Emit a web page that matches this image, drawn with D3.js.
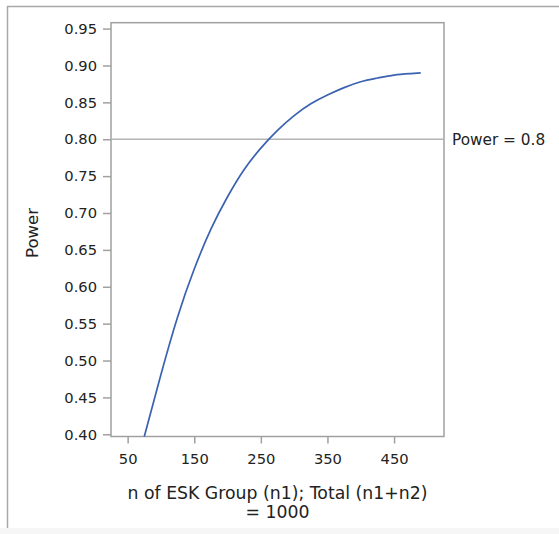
<!DOCTYPE html>
<html>
<head>
<meta charset="utf-8">
<script src="https://cdn.jsdelivr.net/npm/d3@7"></script>
<style>
  html, body { margin: 0; padding: 0; background: #fff; }
  svg { display: block; }
  text { font-family: "DejaVu Sans", Verdana, sans-serif; fill: #222; }
</style>
</head>
<body>
<svg id="chart" width="559" height="534"></svg>
<script>
// Sample size of ESK group (n1), total n1+n2 = 1000
const n1Values = [75, 100, 125, 150, 175, 200, 225, 250, 275, 300, 325, 350, 375, 400, 425, 450, 475, 490];
// Power
const powerValues = [0.397, 0.481, 0.559, 0.624, 0.678, 0.722, 0.759, 0.788, 0.812, 0.832, 0.848, 0.860, 0.870, 0.878, 0.883, 0.887, 0.889, 0.890];
const xTicks = [50, 150, 250, 350, 450];
const yTicks = [0.40, 0.45, 0.50, 0.55, 0.60, 0.65, 0.70, 0.75, 0.80, 0.85, 0.90, 0.95];
const refPower = 0.8;
const refLabel = "Power = 0.8";
const xLabelLines = ["n of ESK Group (n1); Total (n1+n2)", "= 1000"];
const yLabel = "Power";

const svg = d3.select("#chart");
const W = 559, H = 534;
const plot = { left: 111, right: 444, top: 22.7, bottom: 436.5 };

// outer frame
svg.append("rect").attr("x", 0).attr("y", 528).attr("width", W).attr("height", H - 528).attr("fill", "#f6f6f6");
svg.append("line").attr("x1", 7).attr("x2", W).attr("y1", 6.5).attr("y2", 6.5).attr("stroke", "#a8a8a8").attr("stroke-width", 1.5);
svg.append("line").attr("x1", 7.5).attr("x2", 7.5).attr("y1", 6).attr("y2", 528).attr("stroke", "#a8a8a8").attr("stroke-width", 1.5);

const x = d3.scaleLinear().domain([25, 525]).range([plot.left, plot.right]);
const y = d3.scaleLinear().domain([0.397, 0.958]).range([plot.bottom, plot.top]);

const axisColor = "#a0a0a0";

// plot box
svg.append("rect")
  .attr("x", plot.left).attr("y", plot.top)
  .attr("width", plot.right - plot.left).attr("height", plot.bottom - plot.top)
  .attr("fill", "none").attr("stroke", axisColor).attr("stroke-width", 1.5);

// reference line
svg.append("line")
  .attr("x1", plot.left).attr("x2", plot.right)
  .attr("y1", y(refPower)).attr("y2", y(refPower))
  .attr("stroke", "#b4b4b4").attr("stroke-width", 1.3);

svg.append("text")
  .attr("x", 452).attr("y", y(refPower))
  .attr("dy", "0.36em")
  .attr("font-size", "15.3px")
  .text(refLabel);

// y axis
const yAxis = d3.axisLeft(y).tickValues(yTicks).tickFormat(d3.format(".2f")).tickSize(8).tickPadding(6);
const gy = svg.append("g").attr("transform", `translate(${plot.left},0)`).call(yAxis);
gy.select(".domain").remove();
gy.selectAll(".tick line").attr("stroke", axisColor).attr("stroke-width", 1.5);
gy.selectAll(".tick text").attr("font-size", "14.7px").attr("font-family", "DejaVu Sans, sans-serif").attr("fill", "#222");

// x axis
const xAxis = d3.axisBottom(x).tickValues(xTicks).tickFormat(d3.format("d")).tickSize(7).tickPadding(10);
const gx = svg.append("g").attr("transform", `translate(0,${plot.bottom})`).call(xAxis);
gx.select(".domain").remove();
gx.selectAll(".tick line").attr("stroke", axisColor).attr("stroke-width", 1.5);
gx.selectAll(".tick text").attr("font-size", "14.7px").attr("font-family", "DejaVu Sans, sans-serif").attr("fill", "#222");

// axis labels
const xl = svg.append("text")
  .attr("x", (plot.left + plot.right) / 2)
  .attr("text-anchor", "middle")
  .attr("font-size", "17.3px");
xl.append("tspan").attr("x", (plot.left + plot.right) / 2).attr("y", 499).text(xLabelLines[0]);
xl.append("tspan").attr("x", (plot.left + plot.right) / 2).attr("y", 518).text(xLabelLines[1]);

svg.append("text")
  .attr("transform", `translate(38,233) rotate(-90)`)
  .attr("text-anchor", "middle")
  .attr("font-size", "16.5px")
  .text(yLabel);

// curve
const data = n1Values.map((n, i) => ({ n, p: powerValues[i] }));
const line = d3.line().x(d => x(d.n)).y(d => y(d.p)).curve(d3.curveNatural);
svg.append("path")
  .datum(data)
  .attr("d", line)
  .attr("fill", "none")
  .attr("stroke", "#3a62b0")
  .attr("stroke-width", 1.7);
</script>
</body>
</html>
